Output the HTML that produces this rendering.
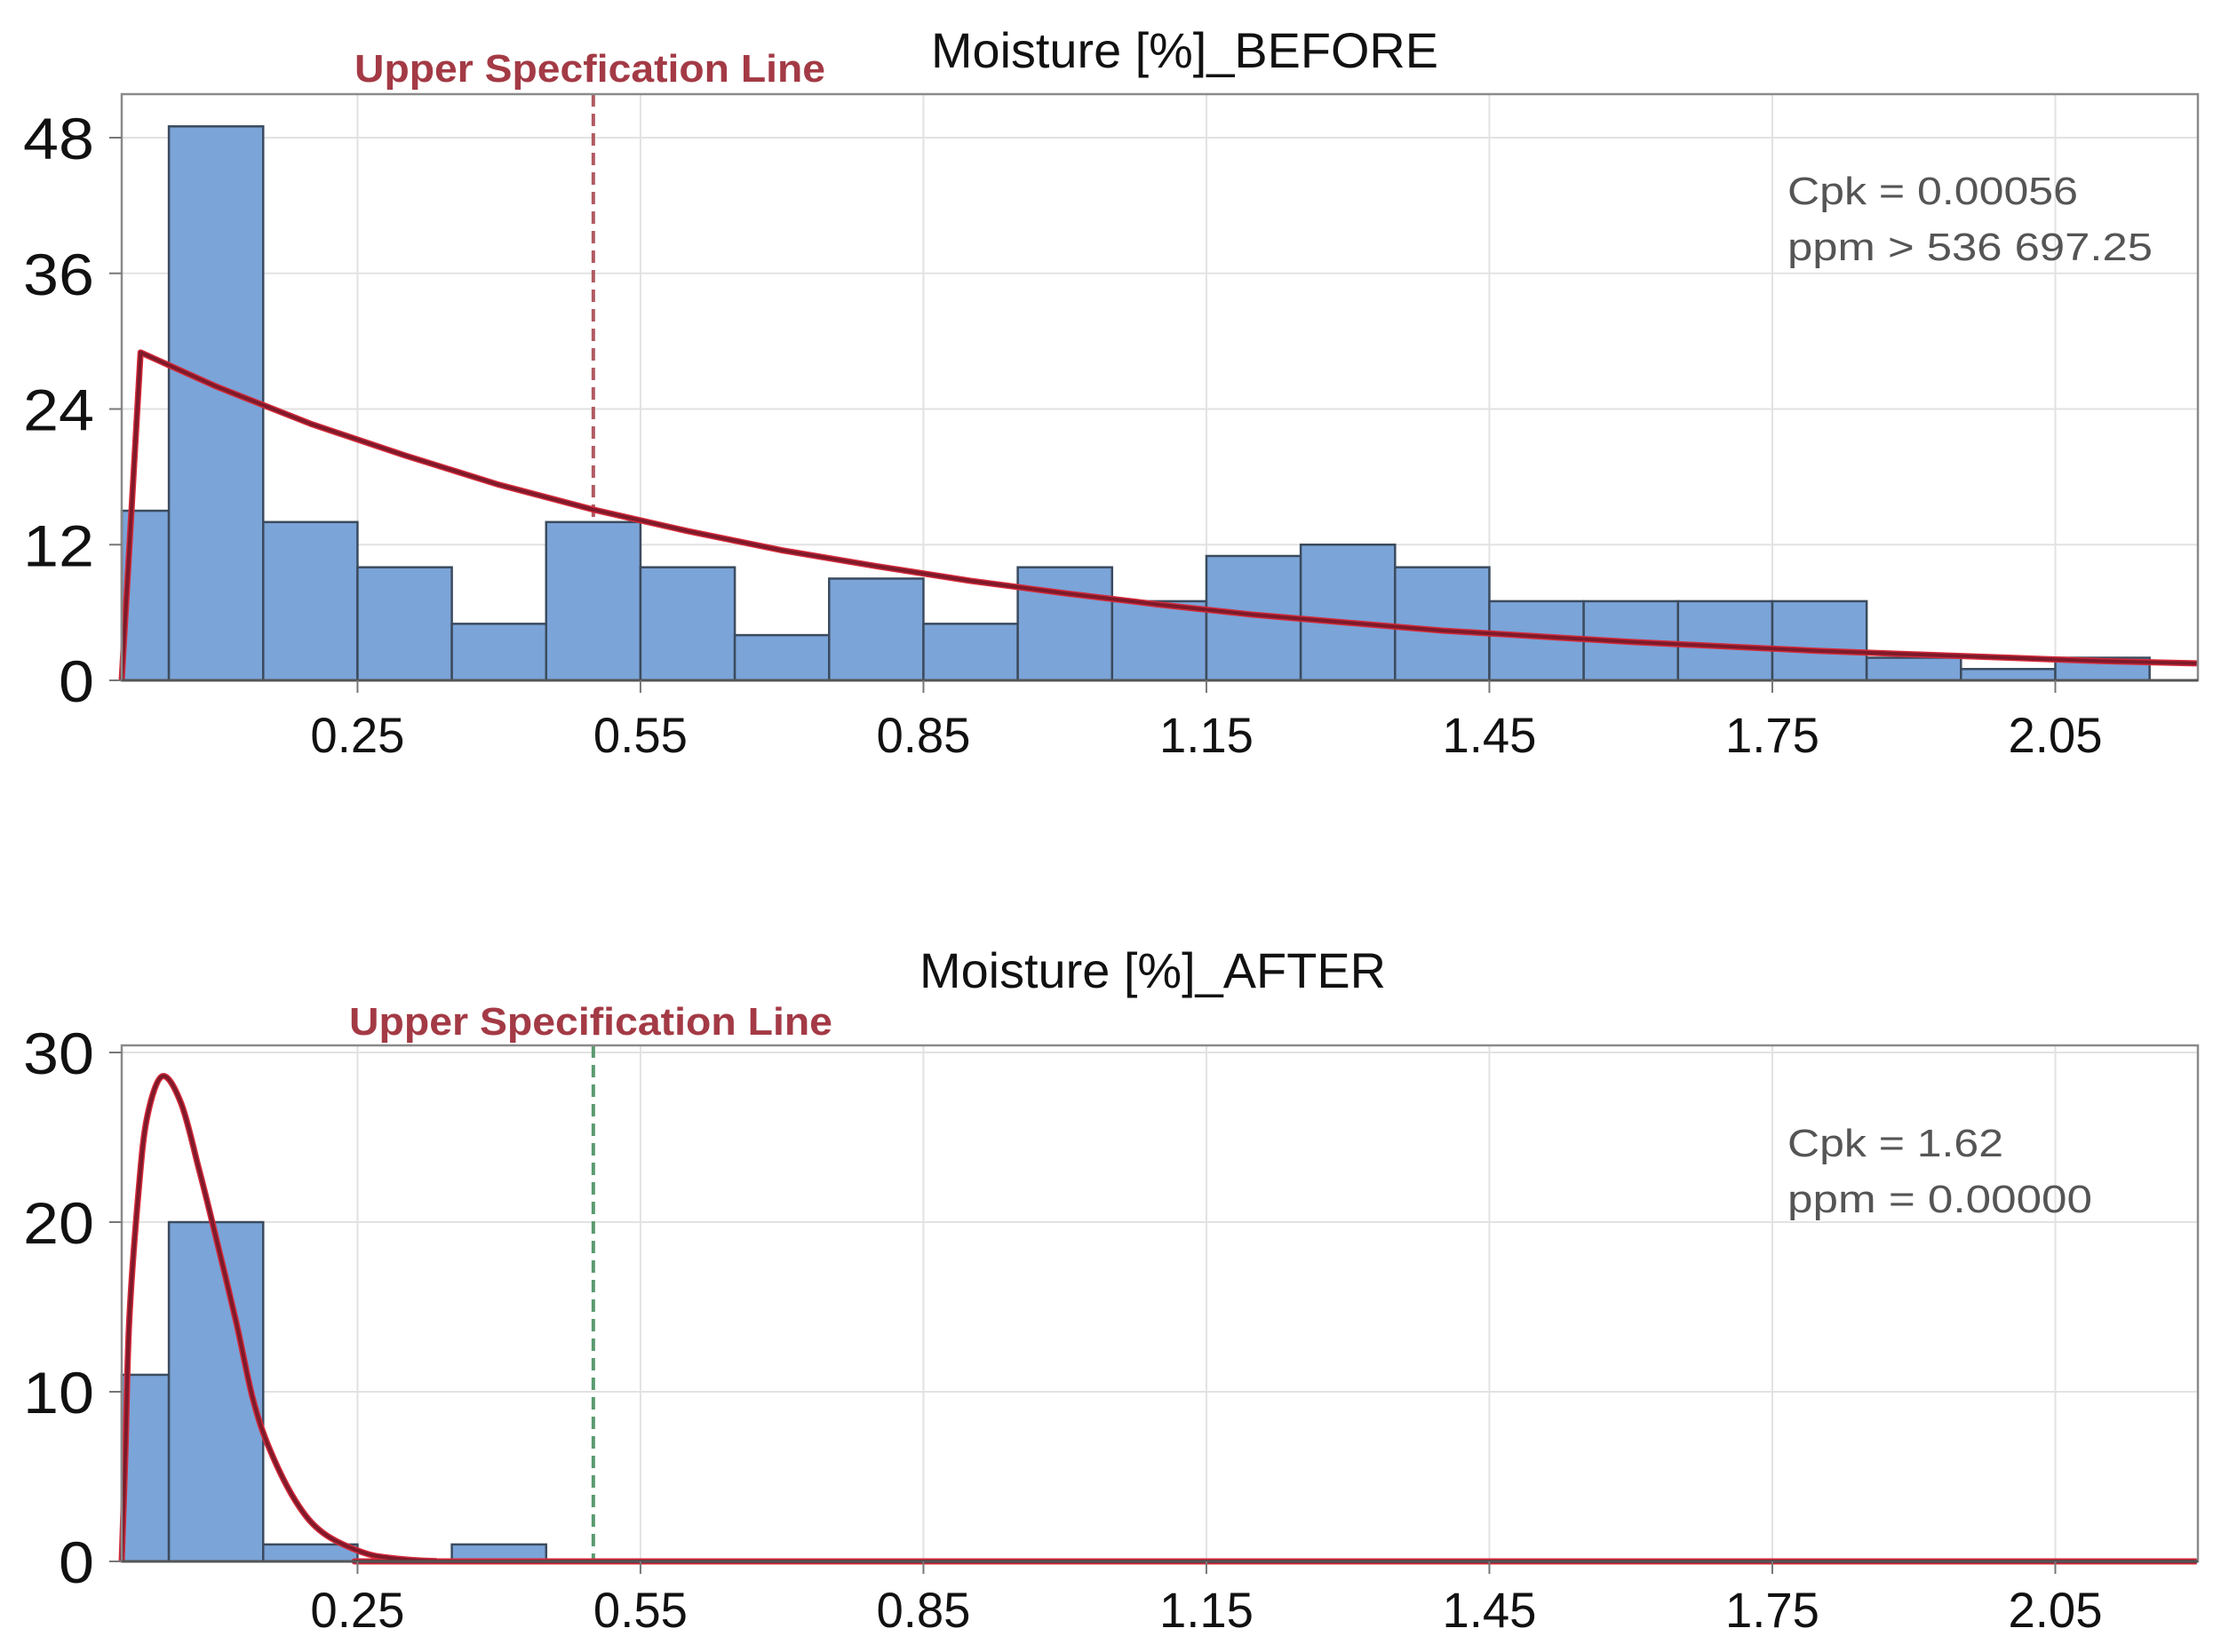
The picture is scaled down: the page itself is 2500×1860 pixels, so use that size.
<!DOCTYPE html>
<html><head><meta charset="utf-8"><style>
html,body{margin:0;padding:0;background:#fff;}
svg{display:block;font-family:"Liberation Sans",sans-serif;}
</style></head><body>
<svg id="chart" width="2500" height="1860" viewBox="0 0 2500 1860" xmlns="http://www.w3.org/2000/svg">
<rect x="0" y="0" width="2500" height="1860" fill="#fff"/>
<g id="top"></g>
<g id="bot"></g>
</svg>
<script>
// ---- shared axis data ----
const xTickVals = [0.25, 0.55, 0.85, 1.15, 1.45, 1.75, 2.05];
const xTickLabels = ["0.25", "0.55", "0.85", "1.15", "1.45", "1.75", "2.05"];
const binEdges = [0, 0.05, 0.15, 0.25, 0.35, 0.45, 0.55, 0.65, 0.75, 0.85, 0.95, 1.05, 1.15, 1.25, 1.35, 1.45, 1.55, 1.65, 1.75, 1.85, 1.95, 2.05, 2.15];
const uslValue = 0.50;

// ---- BEFORE ----
const beforeCounts = [15, 49, 14, 10, 5, 14, 10, 4, 9, 5, 10, 7, 11, 12, 10, 7, 7, 7, 7, 2, 1, 2];
const beforeYTicks = [0, 12, 24, 36, 48];
const beforeCurveX = [0, 0.02, 0.1, 0.2, 0.3, 0.4, 0.5, 0.6, 0.7, 0.8, 0.9, 1.0, 1.1, 1.2, 1.3, 1.4, 1.5, 1.6, 1.7, 1.8, 1.9, 2.0, 2.1, 2.2];
const beforeCurveY = [0, 29, 26.0, 22.7, 19.9, 17.3, 15.1, 13.2, 11.5, 10.1, 8.8, 7.7, 6.7, 5.8, 5.1, 4.4, 3.9, 3.4, 3.0, 2.6, 2.3, 2.0, 1.7, 1.5];

// ---- AFTER ----
const afterCounts = [11, 20, 1, 0, 1, 0, 0, 0, 0, 0, 0, 0, 0, 0, 0, 0, 0, 0, 0, 0, 0, 0];
const afterYTicks = [0, 10, 20, 30];
const afterCurveX = [0, 0.004, 0.008, 0.018, 0.027, 0.043, 0.063, 0.082, 0.096, 0.121, 0.139, 0.157, 0.185, 0.213, 0.254, 0.286, 0.332, 0.4, 2.2];
const afterCurveY = [0, 6.6, 14.2, 21.9, 26.2, 28.6, 27.0, 23.1, 20.0, 14.2, 9.6, 6.6, 3.5, 1.7, 0.56, 0.2, 0.02, 0, 0];

const NS = "http://www.w3.org/2000/svg";
function mk(parent, tag, attrs, text) {
  const e = document.createElementNS(NS, tag);
  for (const k in attrs) e.setAttribute(k, attrs[k]);
  if (text !== undefined) e.textContent = text;
  parent.appendChild(e);
  return e;
}

const X0 = 137, X1 = 2474, PXU = 1061.7;
function xs(v) { return X0 + v * PXU; }

function panel(g, cfg) {
  const ys = v => cfg.yBase - v * cfg.pxPer;
  // grid
  cfg.yTicks.forEach(t => {
    if (t === 0) return;
    const l = mk(g, "line", {x1: X0, x2: X1, y1: ys(t), y2: ys(t), stroke: "#e2e2e2", "stroke-width": 2});
    
    
  });
  xTickVals.forEach(t => {
    const l = mk(g, "line", {x1: xs(t), x2: xs(t), y1: cfg.yTop, y2: cfg.yBase, stroke: "#e2e2e2", "stroke-width": 2});
    
    
  });
  // USL line
  const usl = mk(g, "line", {x1: xs(uslValue), x2: xs(uslValue), y1: cfg.yTop, y2: cfg.yBase, stroke: cfg.uslColor, "stroke-width": 4, "stroke-dasharray": "14 8"});
  
  
  // bars
  cfg.counts.forEach((c, i) => {
    if (c <= 0) return;
    const x = xs(binEdges[i]), w = xs(binEdges[i + 1]) - x;
    const r = mk(g, "rect", {x: x, y: ys(c), width: w, height: ys(0) - ys(c), fill: "#7ba4d8", stroke: "#3b4b5e", "stroke-width": 2.5});
    
    
  });
  // curve
  const pts = cfg.curveX.map((v, i) => [xs(v), ys(cfg.curveY[i])]);
  let d;
  if (cfg.smooth) {
    d = "M" + pts[0][0] + "," + pts[0][1];
    for (let i = 0; i < pts.length - 1; i++) {
      const p0 = pts[Math.max(0, i - 1)], p1 = pts[i], p2 = pts[i + 1], p3 = pts[Math.min(pts.length - 1, i + 2)];
      const c1 = [p1[0] + (p2[0] - p0[0]) / 6, p1[1] + (p2[1] - p0[1]) / 6];
      const c2 = [p2[0] - (p3[0] - p1[0]) / 6, p2[1] - (p3[1] - p1[1]) / 6];
      c1[1] = Math.min(c1[1], cfg.yBase); c2[1] = Math.min(c2[1], cfg.yBase);
      d += " C" + c1.join(",") + " " + c2.join(",") + " " + p2.join(",");
    }
  } else {
    d = "M" + pts.map(p => p.join(",")).join(" L");
  }
  const cu = mk(g, "path", {d: d, fill: "none", stroke: "#d42a3a", "stroke-width": 7, "stroke-linejoin": "round"});
  
  
  const cu2 = mk(g, "path", {d: d, fill: "none", stroke: "#7e1a2a", "stroke-width": 4, "stroke-linejoin": "round"});
  
  
  // frame
  const fr = mk(g, "rect", {x: X0, y: cfg.yTop, width: X1 - X0, height: cfg.yBase - cfg.yTop, fill: "none", stroke: "#8a8a8a", "stroke-width": 2.5});
  
  
  const ax = mk(g, "line", {x1: X0, x2: X1, y1: cfg.yBase, y2: cfg.yBase, stroke: "#555", "stroke-width": 3});
  
  
  // y ticks
  cfg.yTicks.forEach(t => {
    const tk = mk(g, "line", {x1: X0 - 14, x2: X0, y1: ys(t), y2: ys(t), stroke: "#777", "stroke-width": 2});
    
    
    const s = String(t);
    const tl = mk(g, "text", {x: 106, y: ys(t) + 24, "text-anchor": "end", "font-size": 66, fill: "#111", textLength: s.length * 40, lengthAdjust: "spacingAndGlyphs"}, s);
    
    
  });
  // x ticks
  xTickVals.forEach((t, i) => {
    const tk = mk(g, "line", {x1: xs(t), x2: xs(t), y1: cfg.yBase, y2: cfg.yBase + 14, stroke: "#777", "stroke-width": 2});
    
    
    const tl = mk(g, "text", {x: xs(t), y: cfg.xLabelY, "text-anchor": "middle", "font-size": 56, fill: "#111", textLength: 106, lengthAdjust: "spacingAndGlyphs"}, xTickLabels[i]);
    
    
  });
  // title
  const ti = mk(g, "text", {x: cfg.titleX, y: cfg.titleY, "font-size": 56, fill: "#111", textLength: cfg.titleW, lengthAdjust: "spacingAndGlyphs"}, cfg.title);
  
  
  const ul = mk(g, "text", {x: cfg.uslX, y: cfg.uslY, "font-size": 44, "font-weight": "bold", fill: "#a33a45", textLength: cfg.uslW, lengthAdjust: "spacingAndGlyphs"}, cfg.uslText);
  
  
  cfg.stats.forEach((s, i) => {
    const st = mk(g, "text", {x: 2012, y: cfg.statY + i * 63, "font-size": 44, fill: "#555", textLength: cfg.statW[i], lengthAdjust: "spacingAndGlyphs"}, s);
    
    
  });
}

panel(document.getElementById("top"), {
  yTop: 106, yBase: 766, pxPer: 152.75 / 12, yTicks: beforeYTicks, counts: beforeCounts,
  curveX: beforeCurveX, curveY: beforeCurveY, smooth: false, uslColor: "#b05a62",
  xLabelY: 847, title: "Moisture [%]_BEFORE", titleX: 1048, titleY: 76, titleW: 571,
  uslText: "Upper Specfication Line", uslX: 399, uslY: 92, uslW: 530,
  stats: ["Cpk = 0.00056", "ppm > 536 697.25"], statY: 230, statW: [327, 411]
});
panel(document.getElementById("bot"), {
  yTop: 1177, yBase: 1758, pxPer: 19.1, yTicks: afterYTicks, counts: afterCounts,
  curveX: afterCurveX, curveY: afterCurveY, smooth: true, uslColor: "#5a9a70",
  xLabelY: 1832, title: "Moisture [%]_AFTER", titleX: 1035, titleY: 1112, titleW: 525,
  uslText: "Upper Specification Line", uslX: 393, uslY: 1165, uslW: 544,
  stats: ["Cpk = 1.62", "ppm = 0.00000"], statY: 1302, statW: [243, 343]
});
</script>
</body></html>
